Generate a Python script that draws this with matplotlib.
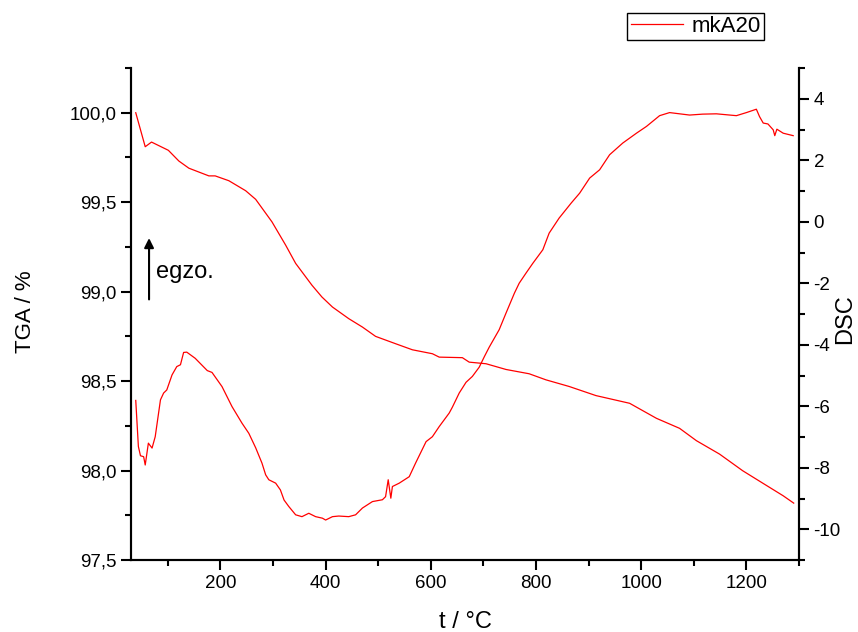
import matplotlib
matplotlib.use("Agg")
import matplotlib.pyplot as plt
from matplotlib.ticker import MultipleLocator, FuncFormatter

plt.rcParams['font.family'] = ['Liberation Sans', 'DejaVu Sans']
plt.rcParams['axes.unicode_minus'] = False

# TGA curve (left axis), temperature in °C, mass in %
tga_t = [39, 57, 69, 101, 121, 140, 178, 190, 216, 248, 267, 298, 324, 343, 374,
         393, 413, 444, 470, 495, 533, 565, 603, 616, 660, 673, 705, 743, 787, 819,
         863, 914, 978, 1029, 1073, 1105, 1149, 1193, 1232, 1270, 1290]
tga_val = [100.0, 99.81, 99.836, 99.79, 99.73, 99.69, 99.647, 99.647, 99.62, 99.564,
           99.516, 99.39, 99.26, 99.158, 99.036, 98.97, 98.914, 98.849, 98.802, 98.75,
           98.709, 98.675, 98.653, 98.634, 98.631, 98.606, 98.597, 98.565, 98.541,
           98.507, 98.47, 98.419, 98.376, 98.292, 98.236, 98.167, 98.092, 97.999,
           97.928, 97.859, 97.818]

# DSC curve (right axis)
dsc_t = [39, 44, 48, 54, 57, 63, 70, 76, 86, 92, 98, 108, 117, 124, 130, 136, 152,
         175, 184, 203, 222, 241, 254, 267, 279, 286, 292, 305, 314, 321, 330, 343,
         355, 368, 381, 394, 400, 413, 425, 444, 457, 470, 489, 508, 514, 519, 524,
         527, 540, 559, 571, 591, 603, 616, 635, 641, 654, 667, 679, 692, 702, 711,
         730, 743, 759, 768, 781, 794, 813, 825, 844, 867, 883, 902, 921, 940, 965,
         991, 1010, 1035, 1054, 1073, 1092, 1117, 1143, 1181, 1200, 1219, 1225,
         1232, 1241, 1251, 1254, 1258, 1270, 1289]
dsc_val = [-5.81, -7.31, -7.61, -7.64, -7.91, -7.20, -7.36, -6.99, -5.79, -5.57,
           -5.47, -4.98, -4.71, -4.65, -4.25, -4.24, -4.44, -4.84, -4.90, -5.36,
           -6.01, -6.55, -6.88, -7.35, -7.85, -8.23, -8.39, -8.50, -8.72, -9.05,
           -9.26, -9.53, -9.59, -9.48, -9.59, -9.64, -9.70, -9.59, -9.57, -9.59,
           -9.53, -9.31, -9.10, -9.04, -8.94, -8.39, -8.99, -8.61, -8.50, -8.29,
           -7.85, -7.15, -6.99, -6.66, -6.22, -6.03, -5.57, -5.22, -5.03, -4.73,
           -4.38, -4.08, -3.51, -2.97, -2.32, -2.0, -1.67, -1.35, -0.91, -0.37,
           0.12, 0.61, 0.93, 1.42, 1.69, 2.18, 2.56, 2.88, 3.10, 3.45, 3.55, 3.51,
           3.47, 3.50, 3.51, 3.45, 3.55, 3.66, 3.42, 3.21, 3.18, 2.99, 2.80, 3.01,
           2.88, 2.80]

fig = plt.figure(figsize=(8.58, 6.32), dpi=100)
ax = fig.add_axes([0.1527, 0.1139, 0.7785, 0.7785])
ax2 = ax.twinx()

ax.plot(tga_t, tga_val, color='red', lw=0.9)
line, = ax2.plot(dsc_t, dsc_val, color='red', lw=0.9, label='mkA20')

ax.set_xlim(30, 1300)
ax.set_ylim(97.5, 100.25)
ax2.set_ylim(-11, 5)

for a in (ax, ax2):
    a.spines['top'].set_visible(False)
    for s in a.spines.values():
        s.set_linewidth(1.5)
    a.tick_params(which='major', length=7, width=1.5, labelsize=13.5, direction='out')
    a.tick_params(which='minor', length=4, width=1.5, direction='out')

ax.xaxis.set_major_locator(MultipleLocator(200))
ax.xaxis.set_minor_locator(MultipleLocator(100))
ax.yaxis.set_major_locator(MultipleLocator(0.5))
ax.yaxis.set_minor_locator(MultipleLocator(0.25))
ax.yaxis.set_major_formatter(FuncFormatter(lambda v, p: f"{v:.1f}".replace('.', ',')))
ax2.yaxis.set_major_locator(MultipleLocator(2))
ax2.yaxis.set_minor_locator(MultipleLocator(1))

ax.set_xlabel('t / °C', fontsize=17, labelpad=14)
ax.set_ylabel('TGA / %', fontsize=16)
ax2.set_ylabel('DSC', fontsize=17)
ax.yaxis.set_label_coords(-0.142, 0.504)
ax2.yaxis.set_label_coords(1.053, 0.49)

ax.annotate('', xy=(0.027, 0.66), xytext=(0.027, 0.524), xycoords='axes fraction',
            arrowprops=dict(arrowstyle='-|>', color='black', lw=1.5, mutation_scale=14))
ax.text(0.037, 0.585, 'egzo.', transform=ax.transAxes, fontsize=17, va='center')

fig.legend(handles=[line], loc='upper left', bbox_to_anchor=(0.731, 0.98),
           fancybox=False, edgecolor='black', framealpha=1, fontsize=16,
           handlelength=2.37, handletextpad=0.38, borderpad=0.15, borderaxespad=0)

fig.savefig('out.png', dpi=100)
